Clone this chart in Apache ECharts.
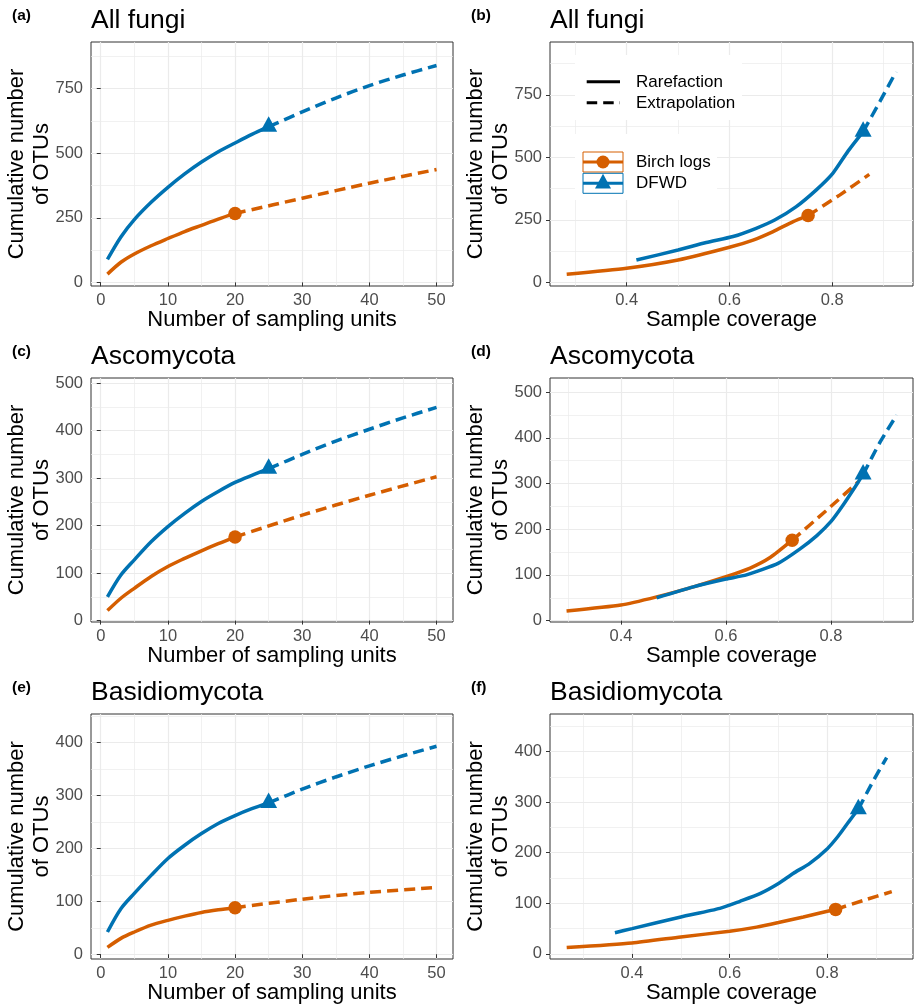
<!DOCTYPE html>
<html><head><meta charset="utf-8">
<script src="https://cdn.jsdelivr.net/npm/echarts@6/dist/echarts.min.js"></script>
<style>html,body{margin:0;padding:0;background:#fff}#c{width:916px;height:1008px}</style>
</head><body><div id="c"></div>
<script>
// ---------- tick values ----------
const X_UNITS_MAJOR = [0, 10, 20, 30, 40, 50];
const X_UNITS_MINOR = [5, 15, 25, 35, 45];
const X_COV_MAJOR = [0.4, 0.6, 0.8];
const X_COV_MINOR = [0.3, 0.5, 0.7, 0.9];
const Y_ALL_MAJOR = [0, 250, 500, 750];
const Y_ALL_MINOR = [125, 375, 625, 875];
const Y_ASCO_MAJOR = [0, 100, 200, 300, 400, 500];
const Y_ASCO_MINOR = [50, 150, 250, 350, 450];
const Y_BASI_MAJOR = [0, 100, 200, 300, 400];
const Y_BASI_MINOR = [50, 150, 250, 350, 450];

// ---------- (a) All fungi, sampling units ----------
const A_birch_rare = [[1,32],[3,78],[5,110],[7.5,142],[10,170],[12.5,197],[15,221],[17.5,245],[20,267]];
const A_birch_extra = [[20,267],[30,326],[40,384],[50,437]];
const A_dfwd_rare = [[1,89],[3,176],[5,243],[7.5,310],[10,368],[12.5,420],[15,466],[17.5,506],[20,540],[22.5,573],[25,603]];
const A_dfwd_extra = [[25,603],[30,660],[35,714],[40,762],[45,803],[50,840]];
// ---------- (b) All fungi, coverage ----------
const B_birch_rare = [[0.2835,32],[0.4,56],[0.5,89],[0.6,140],[0.646,169],[0.685,203],[0.724,243],[0.753,267]];
const B_birch_extra = [[0.753,267],[0.815,350],[0.872,432]];
const B_dfwd_rare = [[0.419,89],[0.5,129],[0.555,159],[0.607,183],[0.652,216],[0.688,249],[0.73,303],[0.769,370],[0.801,436],[0.83,523],[0.86,603]];
const B_dfwd_extra = [[0.86,603],[0.893,725],[0.924,843]];
// ---------- (c) Ascomycota, sampling units ----------
const C_birch_rare = [[1,21],[3,47],[5,68],[7.5,93],[10,114],[12.5,131],[15,147],[17.5,162],[20,176]];
const C_birch_extra = [[20,176],[30,222],[40,264],[50,303]];
const C_dfwd_rare = [[1,50],[3,96],[5,128],[7.5,166],[10,198],[12.5,226],[15,251],[17.5,272],[20,291],[22.5,306],[25,320]];
const C_dfwd_extra = [[25,320],[30,350],[35,378],[40,403],[45,427],[50,449]];
// ---------- (d) Ascomycota, coverage ----------
const D_birch_rare = [[0.2965,21],[0.4,34],[0.468,52],[0.538,74],[0.6,96],[0.646,115],[0.684,138],[0.726,176]];
const D_birch_extra = [[0.726,176],[0.79,240],[0.852,304]];
const D_dfwd_rare = [[0.468,50],[0.538,74],[0.6,91],[0.639,100],[0.7,126],[0.741,157],[0.773,186],[0.8,217],[0.823,253],[0.846,293],[0.861,320]];
const D_dfwd_extra = [[0.861,320],[0.893,390],[0.925,450]];
// ---------- (e) Basidiomycota, sampling units ----------
const E_birch_rare = [[1,13],[3,30],[5,42],[7.5,55],[10,64],[12.5,72],[15,79],[17.5,84],[20,88]];
const E_birch_extra = [[20,88],[30,104],[40,117],[50,126]];
const E_dfwd_rare = [[1,42],[3,86],[5,115],[7.5,149],[10,181],[12.5,206],[15,228],[17.5,247],[20,262],[22.5,275],[25,286]];
const E_dfwd_extra = [[25,286],[30,312],[35,335],[40,356],[45,375],[50,393]];
// ---------- (f) Basidiomycota, coverage ----------
const F_birch_rare = [[0.2662,12.5],[0.4,21.7],[0.5,33.6],[0.6,44.8],[0.655,53],[0.7,62],[0.751,73],[0.785,81],[0.817,88]];
const F_birch_extra = [[0.817,88],[0.875,106],[0.932,123]];
const F_dfwd_rare = [[0.365,42],[0.4,50],[0.5,73],[0.58,90],[0.621,104],[0.662,119],[0.7,139],[0.73,159],[0.764,179],[0.8,208],[0.8225,233],[0.843,260],[0.8635,286]];
const F_dfwd_extra = [[0.8635,286],[0.893,340],[0.9215,388]];

const FONT = '"Liberation Sans", Arial, Helvetica, sans-serif';
const ORANGE = '#D55E00', BLUE = '#0072B2';
const XNAME_UNITS = 'Number of sampling units';
const XNAME_COV = 'Sample coverage';
const YNAME = 'Cumulative number\nof OTUs';

const panels = [
  {lab:'(a)', title:'All fungi', rect:[91,42,362,244], xr:[-1.45,52.45], yr:[-14,931], xM:X_UNITS_MAJOR, xm:X_UNITS_MINOR, yM:Y_ALL_MAJOR, ym:Y_ALL_MINOR, xn:XNAME_UNITS, br:A_birch_rare, be:A_birch_extra, dr:A_dfwd_rare, de:A_dfwd_extra, sm:0.3},
  {lab:'(b)', title:'All fungi', rect:[550,42,363,244], xr:[0.251,0.957], yr:[-15,962], xM:X_COV_MAJOR, xm:X_COV_MINOR, yM:Y_ALL_MAJOR, ym:Y_ALL_MINOR, xn:XNAME_COV, br:B_birch_rare, be:B_birch_extra, dr:B_dfwd_rare, de:B_dfwd_extra, sm:0.2},
  {lab:'(c)', title:'Ascomycota', rect:[91,378,362,244], xr:[-1.45,52.45], yr:[-3,511], xM:X_UNITS_MAJOR, xm:X_UNITS_MINOR, yM:Y_ASCO_MAJOR, ym:Y_ASCO_MINOR, xn:XNAME_UNITS, br:C_birch_rare, be:C_birch_extra, dr:C_dfwd_rare, de:C_dfwd_extra, sm:0.3},
  {lab:'(d)', title:'Ascomycota', rect:[550,378,363,244], xr:[0.265,0.956], yr:[-3,531], xM:X_COV_MAJOR, xm:X_COV_MINOR, yM:Y_ASCO_MAJOR, ym:Y_ASCO_MINOR, xn:XNAME_COV, br:D_birch_rare, be:D_birch_extra, dr:D_dfwd_rare, de:D_dfwd_extra, sm:0.2},
  {lab:'(e)', title:'Basidiomycota', rect:[91,714,362,245], xr:[-1.45,52.45], yr:[-9,454], xM:X_UNITS_MAJOR, xm:X_UNITS_MINOR, yM:Y_BASI_MAJOR, ym:Y_BASI_MINOR, xn:XNAME_UNITS, br:E_birch_rare, be:E_birch_extra, dr:E_dfwd_rare, de:E_dfwd_extra, sm:0.3},
  {lab:'(f)', title:'Basidiomycota', rect:[550,714,363,245], xr:[0.232,0.9755], yr:[-10,474], xM:X_COV_MAJOR, xm:X_COV_MINOR, yM:Y_BASI_MAJOR, ym:Y_BASI_MINOR, xn:XNAME_COV, br:F_birch_rare, be:F_birch_extra, dr:F_dfwd_rare, de:F_dfwd_extra, sm:0.2}
];

const grid = [], xAxis = [], yAxis = [], series = [], title = [];
const DASH = [11, 6];
const LW = 3.5;

panels.forEach((p, i) => {
  const [l, t, w, h] = p.rect;
  grid.push({left:l, top:t, width:w, height:h, show:true, borderColor:'#333333', borderWidth:1, backgroundColor:'#fff', containLabel:false, outerBoundsMode:'none'});
  xAxis.push({gridIndex:i, type:'value', position:'bottom', min:p.xr[0], max:p.xr[1],
    axisLine:{show:false},
    axisTick:{show:true, length:4, lineStyle:{color:'#333333', width:1}, customValues:p.xM},
    axisLabel:{show:true, customValues:p.xM, color:'#4D4D4D', fontSize:16.5, fontFamily:FONT, margin:6},
    splitLine:{show:true, lineStyle:{color:'#EBEBEB', width:1.2}},
    name:p.xn, nameLocation:'middle', nameGap:22.5, nameMoveOverlap:false,
    nameTextStyle:{fontSize:22, color:'#000', fontFamily:FONT}
  });
  xAxis.push({gridIndex:i, type:'value', position:'top', min:p.xr[0], max:p.xr[1],
    axisLine:{show:false}, axisTick:{show:false, customValues:p.xm},
    axisLabel:{show:false, customValues:p.xm},
    splitLine:{show:true, lineStyle:{color:'#EBEBEB', width:0.7}}
  });
  yAxis.push({gridIndex:i, type:'value', position:'left', min:p.yr[0], max:p.yr[1],
    axisLine:{show:false},
    axisTick:{show:true, length:4, lineStyle:{color:'#333333', width:1}, customValues:p.yM},
    axisLabel:{show:true, customValues:p.yM, color:'#4D4D4D', fontSize:16.5, fontFamily:FONT, margin:8},
    splitLine:{show:true, lineStyle:{color:'#EBEBEB', width:1.2}},
    name:YNAME, nameLocation:'middle', nameGap:36.4, nameRotate:90, nameMoveOverlap:false,
    nameTextStyle:{fontSize:22, color:'#000', fontFamily:FONT, lineHeight:25, align:'center'}
  });
  yAxis.push({gridIndex:i, type:'value', position:'right', min:p.yr[0], max:p.yr[1],
    axisLine:{show:false}, axisTick:{show:false, customValues:p.ym},
    axisLabel:{show:false, customValues:p.ym},
    splitLine:{show:true, lineStyle:{color:'#EBEBEB', width:0.7}}
  });
  const xi = 2*i, yi = 2*i;
  const mk = (data, color, dashed, name) => ({
    type:'line', name, xAxisIndex:xi, yAxisIndex:yi, data, symbol:'none', showSymbol:false,
    smooth:p.sm, silent:true, z:2,
    lineStyle:{color, width:LW, type: dashed ? DASH : 'solid', cap:'butt', opacity:1}
  });
  series.push(mk(p.br, ORANGE, false, 'Birch logs'));
  series.push(mk(p.be, ORANGE, true, 'Birch logs'));
  series.push(mk(p.dr, BLUE, false, 'DFWD'));
  series.push(mk(p.de, BLUE, true, 'DFWD'));
  series.push({type:'scatter', xAxisIndex:xi, yAxisIndex:yi, data:[p.br[p.br.length-1]], symbol:'circle', symbolSize:13.5, itemStyle:{color:ORANGE, opacity:1}, silent:true, z:4});
  series.push({type:'scatter', xAxisIndex:xi, yAxisIndex:yi, data:[p.dr[p.dr.length-1]], symbol:'triangle', symbolSize:[17,15.5], symbolOffset:[0,-2.6], itemStyle:{color:BLUE, opacity:1}, silent:true, z:4});

  const row = Math.floor(i/2);
  const rowOff = [0, 336, 672][row];
  const labLeft = (i % 2 === 0) ? 12 : 471;
  title.push({text:p.lab, left:labLeft, top:8 + rowOff, padding:0,
    textStyle:{fontSize:15.5, fontWeight:'bold', color:'#000', fontFamily:FONT}});
  title.push({text:p.title, left:l, top:7 + rowOff, padding:0,
    textStyle:{fontSize:26.5, fontWeight:'normal', color:'#000', fontFamily:FONT}});
});

// legend inside panel (b): graphic keys + real text
const LEG_TEXT = {fontSize:17, fontFamily:FONT, fill:'#000', align:'left', verticalAlign:'middle'};
const graphic = [
  {type:'rect', shape:{x:575, y:55, width:167, height:65}, style:{fill:'#fff'}, z:100},
  {type:'line', shape:{x1:586.7, y1:81.7, x2:620, y2:81.7}, style:{stroke:'#000', lineWidth:3}, z:101},
  {type:'line', shape:{x1:586.7, y1:102.7, x2:620, y2:102.7}, style:{stroke:'#000', lineWidth:3, lineDash:[10.5,6]}, z:101},
  {type:'text', x:636, y:82.5, style:Object.assign({text:'Rarefaction'}, LEG_TEXT), z:101},
  {type:'text', x:636, y:103.2, style:Object.assign({text:'Extrapolation'}, LEG_TEXT), z:101},
  {type:'rect', shape:{x:575, y:134, width:142, height:66}, style:{fill:'#fff'}, z:100},
  {type:'rect', shape:{x:583, y:152, width:40, height:20}, style:{fill:'#fff', stroke:ORANGE, lineWidth:1}, z:101},
  {type:'rect', shape:{x:583, y:173.3, width:40, height:20}, style:{fill:'#fff', stroke:BLUE, lineWidth:1}, z:101},
  {type:'line', shape:{x1:583, y1:162, x2:623, y2:162}, style:{stroke:ORANGE, lineWidth:3}, z:102},
  {type:'line', shape:{x1:583, y1:183.3, x2:623, y2:183.3}, style:{stroke:BLUE, lineWidth:3}, z:102},
  {type:'circle', shape:{cx:603, cy:162, r:6.5}, style:{fill:ORANGE}, z:103},
  {type:'polygon', shape:{points:[[603,173.8],[611,188.5],[595,188.5]]}, style:{fill:BLUE}, z:103},
  {type:'text', x:636, y:162.5, style:Object.assign({text:'Birch logs'}, LEG_TEXT), z:101},
  {type:'text', x:636, y:183.2, style:Object.assign({text:'DFWD'}, LEG_TEXT), z:101}
];

const chart = echarts.init(document.getElementById('c'), null, {renderer:'canvas', width:916, height:1008});
chart.setOption({
  animation:false,
  backgroundColor:'#fff',
  textStyle:{fontFamily:FONT},
  title, grid, xAxis, yAxis, series, graphic
});
</script></body></html>
